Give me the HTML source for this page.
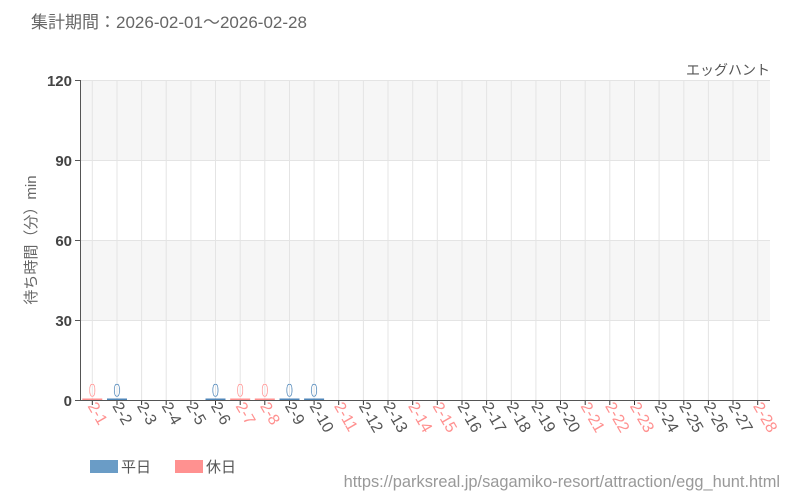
<!DOCTYPE html>
<html><head><meta charset="utf-8"><style>
body{margin:0;background:#fff}
svg{display:block;font-family:"Liberation Sans","Noto Sans CJK JP",sans-serif}
</style></head><body>
<svg width="800" height="500" viewBox="0 0 800 500">
<text x="31" y="28" font-size="17" fill="#666">集計期間：2026-02-01～2026-02-28</text>
<text x="770" y="75" font-size="14" fill="#555" text-anchor="end">エッグハント</text>
<rect x="80" y="80" width="690" height="80" fill="#f6f6f6"/>
<rect x="80" y="240" width="690" height="80" fill="#f6f6f6"/>
<g stroke="#e4e4e4" stroke-width="1">
<line x1="80" y1="80.5" x2="770" y2="80.5"/><line x1="80" y1="160.5" x2="770" y2="160.5"/><line x1="80" y1="240.5" x2="770" y2="240.5"/><line x1="80" y1="320.5" x2="770" y2="320.5"/>
<line x1="92.3" y1="80" x2="92.3" y2="400"/><line x1="117.0" y1="80" x2="117.0" y2="400"/><line x1="141.6" y1="80" x2="141.6" y2="400"/><line x1="166.2" y1="80" x2="166.2" y2="400"/><line x1="190.9" y1="80" x2="190.9" y2="400"/><line x1="215.5" y1="80" x2="215.5" y2="400"/><line x1="240.2" y1="80" x2="240.2" y2="400"/><line x1="264.8" y1="80" x2="264.8" y2="400"/><line x1="289.5" y1="80" x2="289.5" y2="400"/><line x1="314.1" y1="80" x2="314.1" y2="400"/><line x1="338.7" y1="80" x2="338.7" y2="400"/><line x1="363.4" y1="80" x2="363.4" y2="400"/><line x1="388.0" y1="80" x2="388.0" y2="400"/><line x1="412.7" y1="80" x2="412.7" y2="400"/><line x1="437.3" y1="80" x2="437.3" y2="400"/><line x1="462.0" y1="80" x2="462.0" y2="400"/><line x1="486.6" y1="80" x2="486.6" y2="400"/><line x1="511.3" y1="80" x2="511.3" y2="400"/><line x1="535.9" y1="80" x2="535.9" y2="400"/><line x1="560.5" y1="80" x2="560.5" y2="400"/><line x1="585.2" y1="80" x2="585.2" y2="400"/><line x1="609.8" y1="80" x2="609.8" y2="400"/><line x1="634.5" y1="80" x2="634.5" y2="400"/><line x1="659.1" y1="80" x2="659.1" y2="400"/><line x1="683.8" y1="80" x2="683.8" y2="400"/><line x1="708.4" y1="80" x2="708.4" y2="400"/><line x1="733.0" y1="80" x2="733.0" y2="400"/><line x1="757.7" y1="80" x2="757.7" y2="400"/>
</g>
<g stroke="#333">
<line x1="92.3" y1="400" x2="92.3" y2="405"/><line x1="117.0" y1="400" x2="117.0" y2="405"/><line x1="141.6" y1="400" x2="141.6" y2="405"/><line x1="166.2" y1="400" x2="166.2" y2="405"/><line x1="190.9" y1="400" x2="190.9" y2="405"/><line x1="215.5" y1="400" x2="215.5" y2="405"/><line x1="240.2" y1="400" x2="240.2" y2="405"/><line x1="264.8" y1="400" x2="264.8" y2="405"/><line x1="289.5" y1="400" x2="289.5" y2="405"/><line x1="314.1" y1="400" x2="314.1" y2="405"/><line x1="338.7" y1="400" x2="338.7" y2="405"/><line x1="363.4" y1="400" x2="363.4" y2="405"/><line x1="388.0" y1="400" x2="388.0" y2="405"/><line x1="412.7" y1="400" x2="412.7" y2="405"/><line x1="437.3" y1="400" x2="437.3" y2="405"/><line x1="462.0" y1="400" x2="462.0" y2="405"/><line x1="486.6" y1="400" x2="486.6" y2="405"/><line x1="511.3" y1="400" x2="511.3" y2="405"/><line x1="535.9" y1="400" x2="535.9" y2="405"/><line x1="560.5" y1="400" x2="560.5" y2="405"/><line x1="585.2" y1="400" x2="585.2" y2="405"/><line x1="609.8" y1="400" x2="609.8" y2="405"/><line x1="634.5" y1="400" x2="634.5" y2="405"/><line x1="659.1" y1="400" x2="659.1" y2="405"/><line x1="683.8" y1="400" x2="683.8" y2="405"/><line x1="708.4" y1="400" x2="708.4" y2="405"/><line x1="733.0" y1="400" x2="733.0" y2="405"/><line x1="757.7" y1="400" x2="757.7" y2="405"/>
</g>
<g stroke="#555"><line x1="80.5" y1="80" x2="80.5" y2="400"/><line x1="80" y1="400.5" x2="770" y2="400.5"/>
<line x1="75" y1="80.5" x2="80" y2="80.5"/><line x1="75" y1="160.5" x2="80" y2="160.5"/><line x1="75" y1="240.5" x2="80" y2="240.5"/><line x1="75" y1="320.5" x2="80" y2="320.5"/><line x1="75" y1="400.5" x2="80" y2="400.5"/></g>
<g font-size="15" fill="#444" text-anchor="end" font-weight="bold">
<text x="72" y="86">120</text><text x="72" y="166">90</text><text x="72" y="246">60</text><text x="72" y="326">30</text><text x="72" y="406">0</text></g>
<text transform="translate(36,240) rotate(-90)" font-size="15" fill="#666" text-anchor="middle">待ち時間（分）min</text>
<g fill="#ff9190"><rect x="82.3" y="398.5" width="20" height="1.5"/><rect x="230.2" y="398.5" width="20" height="1.5"/><rect x="254.8" y="398.5" width="20" height="1.5"/></g>
<g fill="#4f86b8"><rect x="107.0" y="398.5" width="20" height="1.5"/><rect x="205.5" y="398.5" width="20" height="1.5"/><rect x="279.5" y="398.5" width="20" height="1.5"/><rect x="304.1" y="398.5" width="20" height="1.5"/></g>
<g font-size="19" text-anchor="middle" stroke="#fff" stroke-width="0.6">
<text transform="translate(92.3,397) scale(0.7,1)" fill="#ff9190">0</text>
<text transform="translate(117.0,397) scale(0.7,1)" fill="#4f86b8">0</text>
<text transform="translate(215.5,397) scale(0.7,1)" fill="#4f86b8">0</text>
<text transform="translate(240.2,397) scale(0.7,1)" fill="#ff9190">0</text>
<text transform="translate(264.8,397) scale(0.7,1)" fill="#ff9190">0</text>
<text transform="translate(289.5,397) scale(0.7,1)" fill="#4f86b8">0</text>
<text transform="translate(314.1,397) scale(0.7,1)" fill="#4f86b8">0</text>
</g>
<g font-size="16" fill="#555">
<text transform="translate(87.3,406) rotate(60)" fill="#ff9190">2-1</text>
<text transform="translate(112.0,406) rotate(60)">2-2</text>
<text transform="translate(136.6,406) rotate(60)">2-3</text>
<text transform="translate(161.2,406) rotate(60)">2-4</text>
<text transform="translate(185.9,406) rotate(60)">2-5</text>
<text transform="translate(210.5,406) rotate(60)">2-6</text>
<text transform="translate(235.2,406) rotate(60)" fill="#ff9190">2-7</text>
<text transform="translate(259.8,406) rotate(60)" fill="#ff9190">2-8</text>
<text transform="translate(284.5,406) rotate(60)">2-9</text>
<text transform="translate(309.1,406) rotate(60)">2-10</text>
<text transform="translate(333.7,406) rotate(60)" fill="#ff9190">2-11</text>
<text transform="translate(358.4,406) rotate(60)">2-12</text>
<text transform="translate(383.0,406) rotate(60)">2-13</text>
<text transform="translate(407.7,406) rotate(60)" fill="#ff9190">2-14</text>
<text transform="translate(432.3,406) rotate(60)" fill="#ff9190">2-15</text>
<text transform="translate(457.0,406) rotate(60)">2-16</text>
<text transform="translate(481.6,406) rotate(60)">2-17</text>
<text transform="translate(506.3,406) rotate(60)">2-18</text>
<text transform="translate(530.9,406) rotate(60)">2-19</text>
<text transform="translate(555.5,406) rotate(60)">2-20</text>
<text transform="translate(580.2,406) rotate(60)" fill="#ff9190">2-21</text>
<text transform="translate(604.8,406) rotate(60)" fill="#ff9190">2-22</text>
<text transform="translate(629.5,406) rotate(60)" fill="#ff9190">2-23</text>
<text transform="translate(654.1,406) rotate(60)">2-24</text>
<text transform="translate(678.8,406) rotate(60)">2-25</text>
<text transform="translate(703.4,406) rotate(60)">2-26</text>
<text transform="translate(728.0,406) rotate(60)">2-27</text>
<text transform="translate(752.7,406) rotate(60)" fill="#ff9190">2-28</text>
</g>
<rect x="90" y="460" width="28" height="13" fill="#6a9cc6"/><text x="121" y="472" font-size="15" fill="#555">平日</text>
<rect x="175" y="460" width="28" height="13" fill="#ff9190"/><text x="206" y="472" font-size="15" fill="#555">休日</text>
<text x="780" y="487" font-size="16.4" fill="#999" text-anchor="end">https://parksreal.jp/sagamiko-resort/attraction/egg_hunt.html</text>
</svg>
</body></html>
